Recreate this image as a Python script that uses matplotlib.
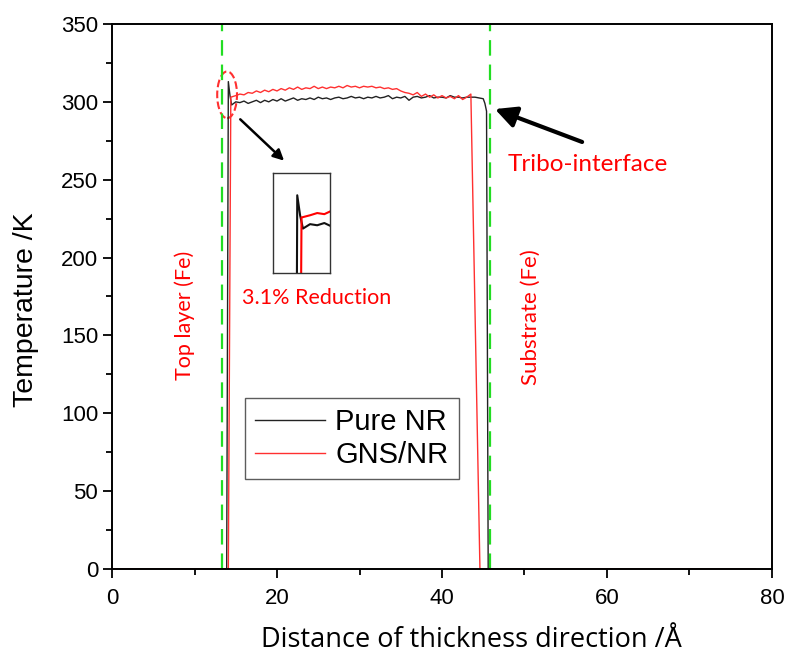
import matplotlib
matplotlib.use('Agg')
import matplotlib.pyplot as plt
from matplotlib.patches import Ellipse
from matplotlib.ticker import MultipleLocator

# Pure NR temperature profile (K) vs distance (Angstrom)
pure_x = [0, 13.9, 14.1, 14.3, 14.5, 15.0, 15.5, 16.0, 16.5, 17.0, 17.5, 18.0, 18.5, 19.0, 19.5,
          20.0, 20.5, 21.0, 21.5, 22.0, 22.5, 23.0, 23.5, 24.0, 24.5, 25.0, 25.5, 26.0, 26.5,
          27.0, 27.5, 28.0, 28.5, 29.0, 29.5, 30.0, 30.5, 31.0, 31.5, 32.0, 32.5, 33.0, 33.5,
          34.0, 34.5, 35.0, 35.5, 36.0, 36.5, 37.0, 37.5, 38.0, 38.5, 39.0, 39.5, 40.0, 40.5,
          41.0, 41.5, 42.0, 42.5, 43.0, 43.5, 44.0, 44.5, 45.0, 45.2, 45.4, 45.6, 78]
pure_t = [0, 0, 313, 304, 298, 300, 299.5, 300.5, 299, 300, 301, 299.5, 301, 300, 301.5,
          300.5, 302, 300.5, 301.5, 302.5, 301, 302, 301.5, 302.5, 301.5, 303, 302, 302.5, 301.5,
          302.5, 303, 302, 302.5, 303.5, 302.5, 303, 302, 303, 302.5, 303.5, 302.5, 303, 304,
          302, 303, 302.5, 303.5, 301, 303, 303.5, 302.5, 303, 304, 302.5, 303, 303, 302.5,
          304, 303, 303, 302.5, 303, 303, 303, 302.5, 302, 299, 294, 0, 0]

# GNS/NR temperature profile
gns_x = [0, 14.1, 14.4, 15.0, 15.5, 16.0, 16.5, 17.0, 17.5, 18.0, 18.5, 19.0, 19.5,
         20.0, 20.5, 21.0, 21.5, 22.0, 22.5, 23.0, 23.5, 24.0, 24.5, 25.0, 25.5, 26.0, 26.5,
         27.0, 27.5, 28.0, 28.5, 29.0, 29.5, 30.0, 30.5, 31.0, 31.5, 32.0, 32.5, 33.0, 33.5,
         34.0, 34.5, 35.0, 35.5, 36.0, 36.5, 37.0, 37.5, 38.0, 38.5, 39.0, 39.5, 40.0, 40.5,
         41.0, 41.5, 42.0, 42.5, 43.0, 43.5, 44.6, 78]
gns_t = [0, 0, 303, 304, 305, 304.5, 306, 305.5, 307, 306, 307.5, 306.5, 308,
         307, 308.5, 307.5, 309, 308, 309.5, 308, 309, 308.5, 310, 308.5, 309.5, 308.5, 309.5,
         309, 310, 309, 310.5, 309.5, 310, 309, 310, 309.5, 310, 309, 309.5, 308.5, 309,
         308, 308.5, 307, 306, 305.5, 304.5, 306, 303.5, 305, 303, 304.5, 302.5, 304, 302.5,
         303.5, 302, 304, 301.5, 303, 305, 0, 0]

boundaries = [13.3, 45.8]

plt.rcParams['font.family'] = ['Liberation Sans', 'DejaVu Sans']
red = '#ff0000'

fig = plt.figure(figsize=(7.85, 6.59), dpi=100)
ax = fig.add_axes([0.1427, 0.1366, 0.8407, 0.827])

ax.plot(pure_x, pure_t, color='#222222', lw=1.0, label='Pure NR')
ax.plot(gns_x, gns_t, color='#ff3030', lw=1.0, label='GNS/NR')
for b in boundaries:
    ax.axvline(b, color='#22dd22', lw=1.6, dashes=(7, 4))

ax.set_xlim(0, 80)
ax.set_ylim(0, 350)
ax.xaxis.set_major_locator(MultipleLocator(20))
ax.xaxis.set_minor_locator(MultipleLocator(10))
ax.yaxis.set_major_locator(MultipleLocator(50))
ax.yaxis.set_minor_locator(MultipleLocator(25))
ax.tick_params(which='major', direction='out', length=6.5, width=1.3, labelsize=16)
ax.tick_params(which='minor', direction='out', length=4, width=1.3)
ax.tick_params(axis='x', pad=7)
for s in ax.spines.values():
    s.set_linewidth(1.4)

ax.set_ylabel('Temperature /K', fontsize=20.5, va='center')
ax.yaxis.set_label_coords(-0.13, 0.475)
ax.set_xlabel('Distance of thickness direction /Å', fontsize=19.5,
              family=['Open Sans', 'DejaVu Sans'], va='top')
ax.xaxis.set_label_coords(0.544, -0.105)

leg = ax.legend(loc='lower left', bbox_to_anchor=(0.2015, 0.165), fontsize=21,
                frameon=True, fancybox=False, edgecolor='#333333', handlelength=2.4,
                borderpad=0.35, labelspacing=0.15, handletextpad=0.35, borderaxespad=0)
leg.get_frame().set_linewidth(1.0)

# annotations
ax.add_patch(Ellipse((13.95, 304.5), 2.4, 30, fill=False, edgecolor='#ff3030', ls='--', lw=1.5))
ax.annotate('', xy=(21.1, 261), xytext=(15.3, 290),
            arrowprops=dict(arrowstyle='-|>', color='black', lw=1.8, mutation_scale=16))
ax.annotate('', xy=(46.1, 296), xytext=(57.3, 273.6),
            arrowprops=dict(arrowstyle='-|>', color='black', lw=3, mutation_scale=32))

tfont = ['Lato', 'DejaVu Sans']
ax.text(57.7, 259.5, 'Tribo-interface', color=red, fontsize=17.5, family=tfont,
        ha='center', va='center')
ax.text(24.8, 174, '3.1% Reduction', color=red, fontsize=15.5, family=tfont,
        ha='center', va='center')
ax.text(8.8, 163, 'Top layer (Fe)', color=red, fontsize=15.5, family=tfont,
        ha='center', va='center', rotation=90)
ax.text(50.8, 162, 'Substrate (Fe)', color=red, fontsize=16, family=tfont,
        ha='center', va='center', rotation=90)

# inset zoom of the peak
ins = fig.add_axes([0.3478, 0.5857, 0.0726, 0.1517])
ins.plot(pure_x, pure_t, color='#111111', lw=1.5)
ins.plot(gns_x, gns_t, color='#ff0000', lw=1.5)
ins.set_xlim(12.4, 16.4)
ins.set_ylim(278, 323)
ins.set_xticks([])
ins.set_yticks([])
for s in ins.spines.values():
    s.set_linewidth(1.0)
    s.set_color('#333333')

fig.savefig('out.png', dpi=100)
